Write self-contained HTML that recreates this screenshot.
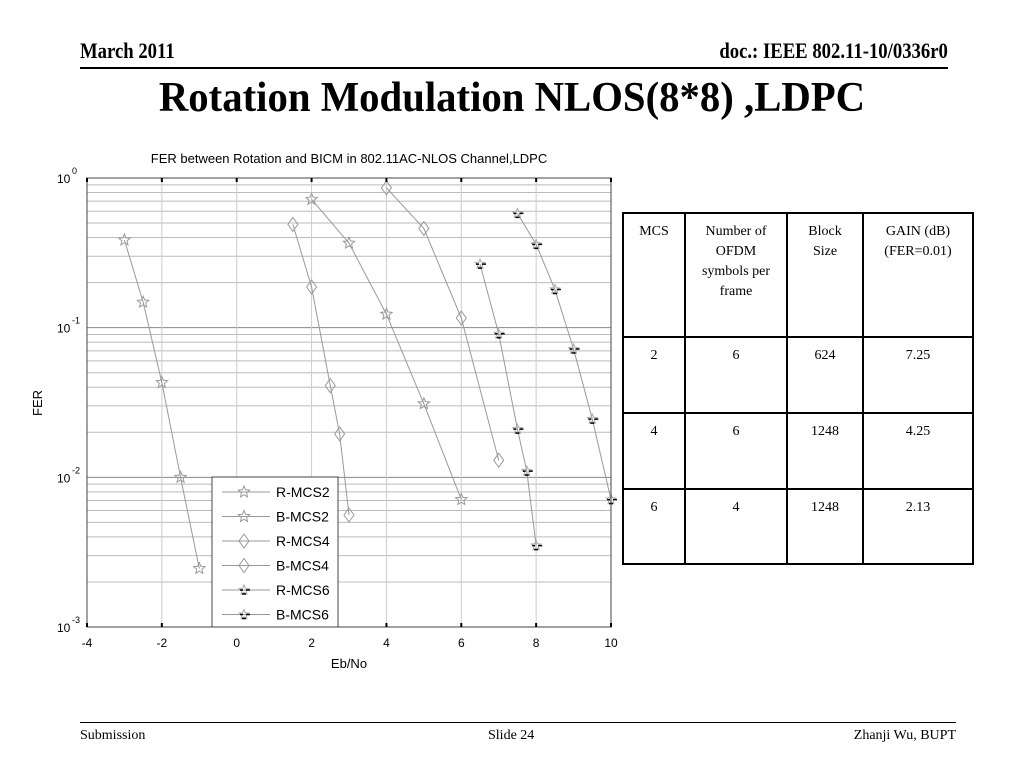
<!DOCTYPE html>
<html><head><meta charset="utf-8"><style>
body{margin:0;width:1024px;height:768px;background:#fff;position:relative;overflow:hidden;font-family:"Liberation Serif",serif}
.abs{position:absolute;white-space:nowrap}
table{border-collapse:collapse;table-layout:fixed;width:350px;position:absolute;left:622px;top:212px;font-family:"Liberation Serif",serif;font-size:14px}
td{border:2px solid #000;text-align:center;vertical-align:top;padding:8px 10px 0 10px;line-height:20px;overflow:hidden}
</style></head><body>
<div class="abs" style="left:80px;top:38px;font-size:22px;font-weight:bold;transform:scaleX(0.85);transform-origin:left">March 2011</div>
<div class="abs" style="right:76px;top:38px;font-size:22px;font-weight:bold;transform:scaleX(0.85);transform-origin:right">doc.: IEEE 802.11-10/0336r0</div>
<div class="abs" style="left:80px;top:67px;width:868px;height:2px;background:#000"></div>
<div class="abs" style="left:512px;top:74px;font-size:42px;font-weight:bold;transform:translateX(-50%) scaleX(0.97)">Rotation Modulation NLOS(8*8) ,LDPC</div>

<svg class="abs" style="left:0;top:0" width="1024" height="768" font-family="Liberation Sans, sans-serif">
<g id="grid"></g><g id="series"></g><g id="axes"></g><g id="legend"></g>
</svg>

<table>
<colgroup><col style="width:62px"><col style="width:102px"><col style="width:76px"><col style="width:110px"></colgroup>
<tr style="height:124px"><td>MCS</td><td>Number of OFDM symbols per frame</td><td>Block Size</td><td>GAIN (dB) (FER=0.01)</td></tr>
<tr style="height:76px"><td>2</td><td>6</td><td>624</td><td>7.25</td></tr>
<tr style="height:76px"><td>4</td><td>6</td><td>1248</td><td>4.25</td></tr>
<tr style="height:75px"><td>6</td><td>4</td><td>1248</td><td>2.13</td></tr>
</table>

<div class="abs" style="left:80px;top:722px;width:876px;height:1px;background:#000"></div>
<div class="abs" style="left:80px;top:728px;font-size:14px">Submission</div>
<div class="abs" style="left:488px;top:728px;font-size:14px">Slide 24</div>
<div class="abs" style="right:68px;top:728px;font-size:14px">Zhanji Wu, BUPT</div>

<script>
const xTicks=[-4,-2,0,2,4,6,8,10];
const seriesNames=["R-MCS2","B-MCS2","R-MCS4","B-MCS4","R-MCS6","B-MCS6"];
const rMcs2X=[-3,-2.5,-2,-1.5,-1];
const rMcs2Y=[0.385,0.148,0.043,0.010,0.00246];
const bMcs2X=[2,3,4,5,6];
const bMcs2Y=[0.72,0.367,0.123,0.031,0.0071];
const rMcs4X=[1.5,2,2.5,2.75,3];
const rMcs4Y=[0.49,0.187,0.041,0.0195,0.0056];
const bMcs4X=[4,5,6,7];
const bMcs4Y=[0.86,0.46,0.116,0.013];
const rMcs6X=[6.5,7,7.5,7.75,8];
const rMcs6Y=[0.266,0.091,0.021,0.011,0.0035];
const bMcs6X=[7.5,8,8.5,9,9.5,10];
const bMcs6Y=[0.58,0.36,0.18,0.072,0.0245,0.0071];

const NS="http://www.w3.org/2000/svg";
const L=87,R=611,T=178,B=627;
const xs=v=>L+(v+4)/14*(R-L);
const ys=v=>T+(-Math.log10(v))/3*(B-T);
function mk(tag,attrs,parent,txt){const e=document.createElementNS(NS,tag);for(const k in attrs)e.setAttribute(k,attrs[k]);if(txt!==undefined)e.textContent=txt;document.getElementById(parent).appendChild(e);return e;}
for(let d=0;d<3;d++){for(let m=1;m<=9;m++){const v=Math.pow(10,-d-1)*m;const y=ys(v);
 const g=mk('line',{x1:L,x2:R,y1:y,y2:y,stroke:m===1?'#888':'#bbb','stroke-width':1},'grid');
 }}
for(const t of xTicks){const x=xs(t);const g=mk('line',{x1:x,x2:x,y1:T,y2:B,stroke:'#ccc'},'grid');
 }
const box=mk('rect',{x:L,y:T,width:R-L,height:B-T,fill:'none',stroke:'#444'},'axes');

for(const t of xTicks){const x=xs(t);
 const tl=mk('text',{x:x,y:B+20,'font-size':12,'text-anchor':'middle'},'axes',String(t));
 
 mk('line',{x1:x,x2:x,y1:B,y2:B-4,stroke:'#000','stroke-width':2},'axes');
 mk('line',{x1:x,x2:x,y1:T,y2:T+4,stroke:'#000','stroke-width':2},'axes');}
for(let d=0;d<=3;d++){const y=ys(Math.pow(10,-d));
 const tl=mk('text',{x:57,y:y+5,'font-size':12},'axes','10');
 
 mk('text',{x:72,y:y-4,'font-size':9},'axes',d===0?'0':'-'+d);}
const xt=mk('text',{x:349,y:668,'font-size':13,'text-anchor':'middle'},'axes','Eb/No');

const yt=mk('text',{x:42,y:403,'font-size':13,'text-anchor':'middle',transform:'rotate(-90 42 403)'},'axes','FER');

const ct=mk('text',{x:349,y:163,'font-size':13,'text-anchor':'middle'},'axes','FER between Rotation and BICM in 802.11AC-NLOS Channel,LDPC');

function star(x,y,r){let p=[];for(let i=0;i<10;i++){const a=-Math.PI/2+i*Math.PI/5;const rr=i%2?r*0.45:r;p.push((x+rr*Math.cos(a)).toFixed(1)+','+(y+rr*Math.sin(a)).toFixed(1));}return p.join(' ');}
function marker(kind,x,y,par){
 if(kind==='star'){return mk('polygon',{points:star(x,y,6),fill:'none',stroke:'#999'},par);}
 if(kind==='diamond'){return mk('polygon',{points:`${x},${y-7} ${x+5},${y} ${x},${y+7} ${x-5},${y}`,fill:'none',stroke:'#999'},par);}
 const g=mk('g',{},par);
 const s=document.createElementNS(NS,'polygon');s.setAttribute('points',star(x,y,5));s.setAttribute('fill','none');s.setAttribute('stroke','#aaa');g.appendChild(s);
 const t=document.createElementNS(NS,'path');t.setAttribute('d',`M${x-4},${y} h3 M${x+2},${y} h4 M${x-2},${y+4} h4`);t.setAttribute('stroke','#000');t.setAttribute('stroke-width','1.5');g.appendChild(t);
 return g;}
const all=[[rMcs2X,rMcs2Y,'star'],[bMcs2X,bMcs2Y,'star'],[rMcs4X,rMcs4Y,'diamond'],[bMcs4X,bMcs4Y,'diamond'],[rMcs6X,rMcs6Y,'m6'],[bMcs6X,bMcs6Y,'m6']];
all.forEach((s,i)=>{const pts=s[0].map((v,j)=>xs(v)+','+ys(s[1][j])).join(' ');
 const pl=mk('polyline',{points:pts,fill:'none',stroke:'#999'},'series');
 
 s[0].forEach((v,j)=>{const m=marker(s[2],xs(v),ys(s[1][j]),'series');
  });});
const lb=mk('rect',{x:212,y:477,width:126,height:150,fill:'#fff',stroke:'#444'},'legend');

seriesNames.forEach((n,i)=>{const y=492+i*24.5;
 mk('line',{x1:222,x2:270,y1:y,y2:y,stroke:'#999'},'legend');
 marker(all[i][2],244,y,'legend');
 const t=mk('text',{x:276,y:y+5,'font-size':14},'legend',n);
 });
</script>
</body></html>
